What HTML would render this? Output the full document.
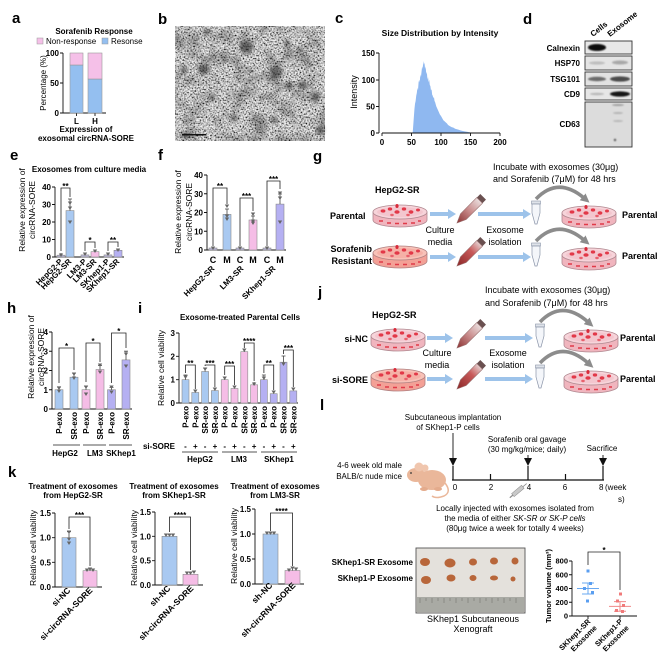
<!DOCTYPE html>
<html><head><meta charset="utf-8"><style>
html,body{margin:0;padding:0;background:#fff;}
svg{display:block;font-family:"Liberation Sans",Arial,sans-serif;}
.pl{font-size:15px;font-weight:bold;}
.b{font-weight:bold;}
.s8{font-size:8px;}
.s9{font-size:9px;}
.ax{stroke:#111;stroke-width:0.9;fill:none;}
.br{stroke:#222;stroke-width:0.8;fill:none;}
.eb{stroke:#444;stroke-width:0.8;fill:none;}
.bar{stroke:#8a8a8a;stroke-width:0.6;}
.bl{fill:#a9c9f1;} .pk{fill:#f5bde6;} .lv{fill:#b5b0f2;} .gl{fill:#bab6d6;}
.pt{fill:#666;}
</style></head><body>
<svg width="668" height="656" viewBox="0 0 668 656" xmlns="http://www.w3.org/2000/svg">
<defs>
 <filter id="nz" x="0" y="0" width="100%" height="100%">
  <feTurbulence type="fractalNoise" baseFrequency="0.65" numOctaves="1" seed="7"/>
  <feColorMatrix type="matrix" values="2.6 0 0 0 -0.72  2.6 0 0 0 -0.72  2.6 0 0 0 -0.72  0 0 0 0 1"/>
 </filter>
 <filter id="nz2" x="0" y="0" width="100%" height="100%">
  <feTurbulence type="fractalNoise" baseFrequency="0.06" numOctaves="2" seed="3"/>
  <feColorMatrix type="matrix" values="0 0 0 0 0  0 0 0 0 0  0 0 0 0 0  -2.2 0 0 0 1.25"/>
 </filter>
 <filter id="blur2"><feGaussianBlur stdDeviation="1.8"/></filter>
 <filter id="blur1"><feGaussianBlur stdDeviation="0.8"/></filter>
 <linearGradient id="tg" x1="0" y1="0" x2="0" y2="1">
  <stop offset="0" stop-color="#e9dcdc"/><stop offset="0.45" stop-color="#c98c8c"/><stop offset="1" stop-color="#8a3030"/>
 </linearGradient>
 <linearGradient id="tg2" x1="0" y1="0" x2="0" y2="1">
  <stop offset="0" stop-color="#e4cfcf"/><stop offset="0.35" stop-color="#c85a5a"/><stop offset="1" stop-color="#8a2626"/>
 </linearGradient>
 <g id="cells">
  <ellipse cx="-17" cy="-4" rx="2.4" ry="1.6" fill="#e23848"/>
  <ellipse cx="-10" cy="-6" rx="2.2" ry="1.6" fill="#e23848"/>
  <ellipse cx="-3" cy="-3" rx="2.6" ry="1.8" fill="#e23848"/>
  <ellipse cx="4" cy="-6" rx="2.2" ry="1.6" fill="#e23848"/>
  <ellipse cx="11" cy="-3" rx="2.4" ry="1.7" fill="#e23848"/>
  <ellipse cx="18" cy="-5" rx="2" ry="1.5" fill="#e23848"/>
  <ellipse cx="-8" cy="0" rx="1.8" ry="1.2" fill="#e8606c"/>
  <ellipse cx="8" cy="0" rx="1.8" ry="1.2" fill="#e8606c"/>
  <ellipse cx="-3" cy="-9" rx="1.6" ry="2" fill="#d82a3a"/>
  <path d="M-21,6 h4 M-13,8 h4 M-5,8.5 h4 M3,8.5 h4 M11,8 h4 M18,6 h3" stroke="#e03a48" stroke-width="1.6"/>
 </g>
 <g id="dishP">
  <path d="M-27,-3 L-27,5 A27,7 0 0 0 27,5 L27,-3 Z" fill="#f0b5be" stroke="#b08890" stroke-width="0.8"/>
  <ellipse cx="0" cy="-3" rx="27" ry="7" fill="#f7d4da" stroke="#b08890" stroke-width="0.8"/>
  <ellipse cx="0" cy="-3" rx="23" ry="5" fill="#f3c6ce"/>
  <use href="#cells"/>
 </g>
 <g id="dishR">
  <path d="M-27,-3 L-27,5 A27,7 0 0 0 27,5 L27,-3 Z" fill="#f3a096" stroke="#b08080" stroke-width="0.8"/>
  <ellipse cx="0" cy="-3" rx="27" ry="7" fill="#f8c2b8" stroke="#b08080" stroke-width="0.8"/>
  <ellipse cx="0" cy="-3" rx="23" ry="5" fill="#f5b0a6"/>
  <use href="#cells"/>
 </g>
 <g id="tube">
  <rect x="-4" y="-20" width="8" height="5" fill="#6a5050"/>
  <path d="M-4,-15 L4,-15 L4,8 L0,17 L-4,8 Z" fill="url(#tg)" stroke="#9a7070" stroke-width="0.6"/>
 </g>
 <g id="tube2">
  <rect x="-4" y="-20" width="8" height="5" fill="#6a5050"/>
  <path d="M-4,-15 L4,-15 L4,8 L0,17 L-4,8 Z" fill="url(#tg2)" stroke="#9a7070" stroke-width="0.6"/>
 </g>
 <g id="epp">
  <rect x="-4.5" y="-12" width="9" height="3" fill="#dfe3ea" stroke="#8a94a8" stroke-width="0.6"/>
  <path d="M-4,-9 L4,-9 L4,0 L1,11 L-1,11 L-4,0 Z" fill="#f4f6fa" stroke="#8a94a8" stroke-width="0.7"/>
 </g>
 <marker id="mg" viewBox="0 0 10 10" refX="2" refY="5" markerWidth="9" markerHeight="9" markerUnits="userSpaceOnUse" orient="auto"><path d="M0,0L10,5L0,10Z" fill="#8c8c8c"/></marker>
 <g id="dn"><path d="M0,0 L-2.2,-3.5 L2.2,-3.5 Z" fill="#666"/></g>
</defs>

<!-- panel letters -->
<text class="pl" x="12" y="23">a</text>
<text class="pl" x="158" y="24">b</text>
<text class="pl" x="335" y="23">c</text>
<text class="pl" x="523" y="24">d</text>
<text class="pl" x="10" y="160">e</text>
<text class="pl" x="158" y="160">f</text>
<text class="pl" x="313" y="161">g</text>
<text class="pl" x="7" y="313">h</text>
<text class="pl" x="138" y="313">i</text>
<text class="pl" x="318" y="297">j</text>
<text class="pl" x="8" y="477">k</text>
<text class="pl" x="320" y="410">l</text>

<!-- ===== a ===== -->
<text class="b s8" x="94" y="34" text-anchor="middle">Sorafenib Response</text>
<rect x="37" y="38" width="6" height="6" fill="#f5c0e8" stroke="#999" stroke-width="0.5"/>
<text class="s8" x="46" y="44">Non-response</text>
<rect x="102" y="38" width="6" height="6" fill="#94bff0" stroke="#999" stroke-width="0.5"/>
<text class="s8" x="111" y="44">Resonse</text>
<path class="ax" d="M63,53 V113 H106 M60,53 H63 M60,83 H63 M60,113 H63 M76.5,113 V116 M95,113 V116"/>
<text class="b s8" x="59" y="56" text-anchor="end">100</text>
<text class="b s8" x="59" y="86" text-anchor="end">50</text>
<text class="b s8" x="59" y="116" text-anchor="end">0</text>
<rect x="70" y="65" width="13" height="48" fill="#94bff0" stroke="#999" stroke-width="0.6"/>
<rect x="70" y="53" width="13" height="12" fill="#f5c0e8" stroke="#999" stroke-width="0.6"/>
<rect x="88" y="79" width="14" height="34" fill="#94bff0" stroke="#999" stroke-width="0.6"/>
<rect x="88" y="53" width="14" height="26" fill="#f5c0e8" stroke="#999" stroke-width="0.6"/>
<text class="b s8" x="76.5" y="124" text-anchor="middle">L</text>
<text class="b s8" x="95" y="124" text-anchor="middle">H</text>
<text class="b s8" x="86" y="132" text-anchor="middle">Expression of</text>
<text class="b s8" x="86" y="141" text-anchor="middle">exosomal circRNA-SORE</text>
<text class="s8" transform="translate(46,83) rotate(-90)" text-anchor="middle">Percentage (%)</text>

<!-- ===== b TEM ===== -->
<rect x="175" y="26" width="150" height="115" fill="#9a9a9a"/>
<rect x="175" y="26" width="150" height="115" filter="url(#nz)" opacity="0.85"/>
<rect x="175" y="26" width="150" height="115" filter="url(#nz2)" opacity="0.35"/>
<g filter="url(#blur2)" fill="#262626" opacity="0.6">
 <path d="M198,66 q5,-4 10,0 q2,6 -4,8 q-7,0 -6,-8z"/>
 <path d="M240,42 q8,-3 13,3 q1,8 -7,9 q-8,-2 -6,-12z"/>
 <path d="M271,67 q8,-2 12,4 q-1,8 -8,8 q-6,-4 -4,-12z"/>
 <ellipse cx="289" cy="86" rx="4" ry="4"/>
 <ellipse cx="303" cy="85" rx="5" ry="4"/>
 <ellipse cx="184" cy="70" rx="3" ry="4"/>
 <ellipse cx="234" cy="118" rx="4" ry="3"/>
 <ellipse cx="274" cy="120" rx="4" ry="3"/>
 <ellipse cx="316" cy="97" rx="4" ry="5"/>
 <ellipse cx="207" cy="32" rx="4" ry="3"/>
 <ellipse cx="287" cy="43" rx="3" ry="3"/>
 <ellipse cx="212" cy="98" rx="3" ry="3"/>
 <ellipse cx="320" cy="130" rx="4" ry="4"/>
 <ellipse cx="262" cy="98" rx="3" ry="2"/>
 <ellipse cx="186" cy="135" rx="5" ry="3"/>
 <ellipse cx="225" cy="60" rx="3" ry="2"/>
 <ellipse cx="300" cy="50" rx="3" ry="2.5"/>
 <ellipse cx="250" cy="80" rx="2.5" ry="2"/>
</g>
<rect x="182" y="134" width="24" height="1.5" fill="#111"/>

<!-- ===== c ===== -->
<text class="b" style="font-size:8.5px" x="440" y="36" text-anchor="middle">Size Distribution by Intensity</text>
<g transform="translate(382,133) scale(0.59,-0.533)">
 <polygon fill="#8fb8f0" points="52,0 53,15 54,30 55,45 56,55 57,60 58,70 59,75 60,85 61,80 62,95 63,100 64,95 65,110 66,105 67,115 68,125 69,120 70,135 71,128 72,132 73,120 74,125 75,110 76,115 77,100 78,105 79,95 80,100 81,90 82,88 83,80 84,82 85,72 86,70 87,65 88,68 89,60 90,58 92,50 94,45 96,40 98,35 100,32 102,28 104,24 106,22 108,20 110,18 112,15 115,13 118,11 121,10 124,8 127,7 130,6 133,5 136,4 140,3 145,2 150,1 152,0"/>
</g>
<path class="ax" d="M379,53 V133 M376,53 H379 M376,80 H379 M376,106.5 H379 M376,133 H379 M382,133 H500 M382,133 V136 M411.5,133 V136 M441,133 V136 M470.5,133 V136 M500,133 V136"/>
<text class="b s8" x="375" y="56" text-anchor="end">150</text>
<text class="b s8" x="375" y="83" text-anchor="end">100</text>
<text class="b s8" x="375" y="109.5" text-anchor="end">50</text>
<text class="b s8" x="375" y="136" text-anchor="end">0</text>
<text class="b s8" x="382" y="145" text-anchor="middle">0</text>
<text class="b s8" x="411.5" y="145" text-anchor="middle">50</text>
<text class="b s8" x="441" y="145" text-anchor="middle">100</text>
<text class="b s8" x="470.5" y="145" text-anchor="middle">150</text>
<text class="b s8" x="500" y="145" text-anchor="middle">200</text>
<text class="s9" transform="translate(357,92) rotate(-90)" text-anchor="middle">Intensity</text>

<!-- ===== d ===== -->
<text class="b s8" transform="translate(593,37) rotate(-38)">Cells</text>
<text class="b s8" transform="translate(610,37) rotate(-38)">Exosome</text>
<text class="b s8" x="580" y="51" text-anchor="end">Calnexin</text>
<text class="b s8" x="580" y="66" text-anchor="end">HSP70</text>
<text class="b s8" x="580" y="82" text-anchor="end">TSG101</text>
<text class="b s8" x="580" y="97" text-anchor="end">CD9</text>
<text class="b s8" x="580" y="127" text-anchor="end">CD63</text>
<rect x="585" y="41" width="47" height="13" fill="#e8e8e8" stroke="#333" stroke-width="0.9"/>
<rect x="585" y="56" width="47" height="14" fill="#e4e4e4" stroke="#333" stroke-width="0.9"/>
<rect x="585" y="72" width="47" height="14" fill="#e2e2e2" stroke="#333" stroke-width="0.9"/>
<rect x="585" y="88" width="47" height="12" fill="#e6e6e6" stroke="#333" stroke-width="0.9"/>
<rect x="585" y="102" width="47" height="45" fill="#dcdcdc" stroke="#333" stroke-width="0.9"/>
<g filter="url(#blur1)">
 <ellipse cx="597" cy="47.5" rx="9" ry="3.5" fill="#080808"/>
 <ellipse cx="597" cy="63" rx="8" ry="1.6" fill="#bdbdbd"/>
 <ellipse cx="620" cy="62.5" rx="8" ry="2" fill="#a8a8a8"/>
 <ellipse cx="597" cy="79" rx="9" ry="2.2" fill="#6a6a6a"/>
 <ellipse cx="620" cy="79" rx="10" ry="2.6" fill="#4a4a4a"/>
 <ellipse cx="597" cy="94" rx="7" ry="1.2" fill="#b8b8b8"/>
 <ellipse cx="620" cy="94" rx="10" ry="2.6" fill="#151515"/>
 <ellipse cx="618" cy="105" rx="6" ry="1" fill="#a0a0a0"/>
 <ellipse cx="618" cy="113" rx="5" ry="1" fill="#b4b4b4"/>
 <ellipse cx="618" cy="121" rx="5" ry="1" fill="#b8b8b8"/>
 <circle cx="615" cy="140" r="1.2" fill="#555"/>
</g>

<!-- ===== e ===== -->
<text class="b s8" x="89" y="172" text-anchor="middle">Exosomes from culture media</text>
<text style="font-size:8.5px" transform="translate(25,210) rotate(-90)" text-anchor="middle">Relative expression of</text>
<text style="font-size:8.5px" transform="translate(35,210) rotate(-90)" text-anchor="middle">circRNA-SORE</text>
<path class="ax" d="M55,187 V257 H124 M52,187 H55 M52,204.5 H55 M52,222 H55 M52,239.5 H55 M52,257 H55"/>
<text class="b s8" x="51" y="190" text-anchor="end">40</text>
<text class="b s8" x="51" y="207.5" text-anchor="end">30</text>
<text class="b s8" x="51" y="225" text-anchor="end">20</text>
<text class="b s8" x="51" y="242.5" text-anchor="end">10</text>
<text class="b s8" x="51" y="260" text-anchor="end">0</text>
<rect class="bar gl" x="57" y="255.2" width="8" height="1.8"/>
<rect class="bar bl" x="66" y="210.6" width="8" height="46.4"/>
<rect class="bar gl" x="81" y="254.9" width="8" height="2.1"/>
<rect class="bar pk" x="91" y="251.7" width="8" height="5.3"/>
<rect class="bar gl" x="104" y="254.9" width="8" height="2.1"/>
<rect class="bar lv" x="114" y="250.3" width="8" height="6.7"/>
<path class="eb" d="M70,210.6 V199 M68,199 H72 M61,255 V253 M95,251.7 V250 M118,250.3 V249 M116,249 H120"/>
<use href="#dn" x="70" y="205"/><use href="#dn" x="70" y="210"/><use href="#dn" x="70" y="224"/>
<use href="#dn" x="61" y="257"/><use href="#dn" x="85" y="256"/><use href="#dn" x="95" y="253"/><use href="#dn" x="108" y="256"/><use href="#dn" x="118" y="252"/>
<path class="br" d="M61,251 V188 H70 V197 M85,251 V242 H95 V248 M108,251 V242 H118 V247"/>
<text class="b s8" x="65.5" y="189" text-anchor="middle">**</text>
<text class="b s8" x="90" y="243" text-anchor="middle">*</text>
<text class="b s8" x="113" y="243" text-anchor="middle">**</text>
<g class="b s8" text-anchor="end">
 <text transform="translate(63,262) rotate(-45)">HepG2-P</text>
 <text transform="translate(72,262) rotate(-45)">HepG2-SR</text>
 <text transform="translate(87,262) rotate(-45)">LM3-P</text>
 <text transform="translate(97,262) rotate(-45)">LM3-SR</text>
 <text transform="translate(110,262) rotate(-45)">SKhep1-P</text>
 <text transform="translate(120,262) rotate(-45)">SKhep1-SR</text>
</g>

<!-- ===== f ===== -->
<text style="font-size:8.5px" transform="translate(181,212) rotate(-90)" text-anchor="middle">Relative expression of</text>
<text style="font-size:8.5px" transform="translate(192,212) rotate(-90)" text-anchor="middle">circRNA-SORE</text>
<path class="ax" d="M207,175 V250 H286 M204,175 H207 M204,193.75 H207 M204,212.5 H207 M204,231.25 H207 M204,250 H207"/>
<text class="b s8" x="203" y="178" text-anchor="end">40</text>
<text class="b s8" x="203" y="196.75" text-anchor="end">30</text>
<text class="b s8" x="203" y="215.5" text-anchor="end">20</text>
<text class="b s8" x="203" y="234.25" text-anchor="end">10</text>
<text class="b s8" x="203" y="253" text-anchor="end">0</text>
<rect class="bar gl" x="209" y="248" width="8" height="2"/>
<rect class="bar bl" x="223" y="214.4" width="8" height="35.6"/>
<rect class="bar gl" x="236" y="248" width="8" height="2"/>
<rect class="bar pk" x="249" y="220" width="8" height="30"/>
<rect class="bar gl" x="263" y="248" width="8" height="2"/>
<rect class="bar lv" x="276" y="204.1" width="8" height="45.9"/>
<path class="eb" d="M227,214.4 V209 M225,209 H229 M253,220 V216 M251,216 H255 M280,204 V194 M278,194 H282"/>
<use href="#dn" x="227" y="208"/><use href="#dn" x="227" y="218"/><use href="#dn" x="227" y="221"/>
<use href="#dn" x="253" y="216"/><use href="#dn" x="253" y="223"/><use href="#dn" x="253" y="225"/>
<use href="#dn" x="280" y="195"/><use href="#dn" x="280" y="200"/><use href="#dn" x="280" y="224"/>
<use href="#dn" x="213" y="250"/><use href="#dn" x="240" y="250"/><use href="#dn" x="267" y="250"/>
<path class="br" d="M213,246 V188 H227 V204 M240,246 V198 H253 V211 M267,246 V181 H280 V189"/>
<text class="b s8" x="220" y="189" text-anchor="middle">**</text>
<text class="b s8" x="246.5" y="199" text-anchor="middle">***</text>
<text class="b s8" x="273.5" y="182" text-anchor="middle">***</text>
<g class="b s9" text-anchor="middle">
 <text x="213" y="263">C</text><text x="227" y="263">M</text>
 <text x="240" y="263">C</text><text x="253" y="263">M</text>
 <text x="267" y="263">C</text><text x="280" y="263">M</text>
</g>
<g class="b s8" text-anchor="end">
 <text transform="translate(215,269) rotate(-45)">HepG2-SR</text>
 <text transform="translate(244,269) rotate(-45)">LM3-SR</text>
 <text transform="translate(276,269) rotate(-45)">SKhep1-SR</text>
</g>

<!-- ===== g ===== -->
<text class="s9" x="493" y="170">Incubate with exosomes (30μg)</text>
<text class="s9" x="493" y="182">and Sorafenib (7μM) for 48 hrs</text>
<text class="b s9" x="375" y="193">HepG2-SR</text>
<text class="b s9" x="330" y="219">Parental</text>
<text class="b s9" x="372" y="252" text-anchor="end">Sorafenib</text>
<text class="b s9" x="372" y="264" text-anchor="end">Resistant</text>
<use href="#dishP" x="400" y="215"/>
<use href="#dishR" x="400" y="256"/>
<use href="#dishP" x="589" y="216"/>
<use href="#dishP" x="589" y="258"/>
<g stroke="#9dc3ea" stroke-width="4">
 <line x1="430" y1="214" x2="449" y2="214"/><line x1="478" y1="214" x2="524" y2="214"/>
 <line x1="430" y1="257" x2="449" y2="257"/><line x1="478" y1="257" x2="524" y2="257"/>
</g>
<g fill="#9dc3ea">
 <polygon points="448,209 456,214 448,219"/><polygon points="523,209 531,214 523,219"/>
 <polygon points="448,252 456,257 448,262"/><polygon points="523,252 531,257 523,262"/>
</g>
<use href="#tube" transform="translate(469,211) rotate(45)"/>
<use href="#tube2" transform="translate(469,254) rotate(45)"/>
<use href="#epp" x="536" y="213"/>
<use href="#epp" x="536" y="255"/>
<path d="M536,199 Q558,176 584,198" stroke="#8c8c8c" stroke-width="3.5" fill="none" marker-end="url(#mg)"/>
<path d="M536,241 Q558,218 584,240" stroke="#8c8c8c" stroke-width="3.5" fill="none" marker-end="url(#mg)"/>
<text class="s9" x="440" y="233" text-anchor="middle">Culture</text>
<text class="s9" x="440" y="245" text-anchor="middle">media</text>
<text class="s9" x="505" y="233" text-anchor="middle">Exosome</text>
<text class="s9" x="505" y="245" text-anchor="middle">isolation</text>
<text class="b s9" x="622" y="218">Parental</text>
<text class="b s9" x="622" y="259">Parental</text>

<!-- ===== j ===== -->
<text class="s9" x="485" y="293">Incubate with exosomes (30μg)</text>
<text class="s9" x="485" y="306">and Sorafenib (7μM) for 48 hrs</text>
<text class="b s9" x="372" y="318">HepG2-SR</text>
<text class="b s9" x="368" y="342" text-anchor="end">si-NC</text>
<text class="b s9" x="368" y="383" text-anchor="end">si-SORE</text>
<use href="#dishP" x="398" y="339"/>
<use href="#dishR" x="398" y="379"/>
<use href="#dishP" x="591" y="340"/>
<use href="#dishP" x="591" y="381"/>
<g stroke="#9dc3ea" stroke-width="4">
 <line x1="427" y1="338" x2="446" y2="338"/><line x1="485" y1="338" x2="526" y2="338"/>
 <line x1="427" y1="379" x2="446" y2="379"/><line x1="485" y1="379" x2="526" y2="379"/>
</g>
<g fill="#9dc3ea">
 <polygon points="445,333 453,338 445,343"/><polygon points="525,333 533,338 525,343"/>
 <polygon points="445,374 453,379 445,384"/><polygon points="525,374 533,379 525,384"/>
</g>
<use href="#tube" transform="translate(469,336) rotate(45)"/>
<use href="#tube2" transform="translate(469,377) rotate(45)"/>
<use href="#epp" x="540" y="336"/>
<use href="#epp" x="540" y="377"/>
<path d="M540,322 Q562,299 588,322" stroke="#8c8c8c" stroke-width="3.5" fill="none" marker-end="url(#mg)"/>
<path d="M540,363 Q562,340 588,363" stroke="#8c8c8c" stroke-width="3.5" fill="none" marker-end="url(#mg)"/>
<text class="s9" x="437" y="356" text-anchor="middle">Culture</text>
<text class="s9" x="437" y="368" text-anchor="middle">media</text>
<text class="s9" x="508" y="356" text-anchor="middle">Exosome</text>
<text class="s9" x="508" y="368" text-anchor="middle">isolation</text>
<text class="b s9" x="620" y="341">Parental</text>
<text class="b s9" x="620" y="382">Parental</text>

<!-- ===== h ===== -->
<text style="font-size:8.5px" transform="translate(34,357) rotate(-90)" text-anchor="middle">Relative expression of</text>
<text style="font-size:8.5px" transform="translate(44,357) rotate(-90)" text-anchor="middle">circRNA-SORE</text>
<path class="ax" d="M52,332 V409 H132 M49,332 H52 M49,351.25 H52 M49,370.5 H52 M49,389.75 H52 M49,409 H52"/>
<text class="b s8" x="48" y="335" text-anchor="end">4</text>
<text class="b s8" x="48" y="354.25" text-anchor="end">3</text>
<text class="b s8" x="48" y="373.5" text-anchor="end">2</text>
<text class="b s8" x="48" y="392.75" text-anchor="end">1</text>
<text class="b s8" x="48" y="412" text-anchor="end">0</text>
<rect class="bar bl" x="55" y="389.75" width="8" height="19.25"/>
<rect class="bar bl" x="70" y="377.2" width="8" height="31.8"/>
<rect class="bar pk" x="82" y="389.75" width="8" height="19.25"/>
<rect class="bar pk" x="96" y="369.5" width="8" height="39.5"/>
<rect class="bar lv" x="107.5" y="389.75" width="8" height="19.25"/>
<rect class="bar lv" x="122" y="359.9" width="8" height="49.1"/>
<path class="eb" d="M59,389.75 V386.8 M57,386.8 H61 M74,377.2 V373 M72,373 H76 M86,389.75 V386 M84,386 H88 M100,369.5 V365.6 M98,365.6 H102 M111.5,389.75 V387.4 M109.5,387.4 H113.5 M126,359.9 V351.2 M124,351.2 H128"/>
<use href="#dn" x="59" y="390"/><use href="#dn" x="59" y="393"/><use href="#dn" x="74" y="376"/><use href="#dn" x="74" y="380"/>
<use href="#dn" x="86" y="389"/><use href="#dn" x="86" y="396"/><use href="#dn" x="100" y="367"/><use href="#dn" x="100" y="374"/>
<use href="#dn" x="111.5" y="389"/><use href="#dn" x="111.5" y="394"/><use href="#dn" x="126" y="356"/><use href="#dn" x="126" y="368"/>
<path class="br" d="M59,383 V348 H74 V370 M86,382 V343 H100 V362 M111.5,383 V333 H126 V348"/>
<text class="b s8" x="66.5" y="349" text-anchor="middle">*</text>
<text class="b s8" x="93" y="344" text-anchor="middle">*</text>
<text class="b s8" x="118.75" y="334" text-anchor="middle">*</text>
<g class="b s8" text-anchor="end">
 <text transform="translate(62,412) rotate(-90)">P-exo</text>
 <text transform="translate(77,412) rotate(-90)">SR-exo</text>
 <text transform="translate(89,412) rotate(-90)">P-exo</text>
 <text transform="translate(103,412) rotate(-90)">SR-exo</text>
 <text transform="translate(114.5,412) rotate(-90)">P-exo</text>
 <text transform="translate(129,412) rotate(-90)">SR-exo</text>
</g>
<path stroke="#555" stroke-width="0.9" d="M53,445 H80 M83,445 H106 M109,445 H132"/>
<text class="b s8" x="65" y="456" text-anchor="middle">HepG2</text>
<text class="b s8" x="95" y="456" text-anchor="middle">LM3</text>
<text class="b s8" x="121" y="456" text-anchor="middle">SKhep1</text>

<!-- ===== i ===== -->
<text class="b s8" x="240" y="320" text-anchor="middle">Exosome-treated Parental Cells</text>
<text style="font-size:8.5px" transform="translate(164,368) rotate(-90)" text-anchor="middle">Relative cell viability</text>
<path class="ax" d="M179,333 V403 H298 M176,333 H179 M176,356.3 H179 M176,379.7 H179 M176,403 H179"/>
<text class="b s8" x="175" y="336" text-anchor="end">3</text>
<text class="b s8" x="175" y="359.3" text-anchor="end">2</text>
<text class="b s8" x="175" y="382.7" text-anchor="end">1</text>
<text class="b s8" x="175" y="406" text-anchor="end">0</text>
<rect class="bar bl" x="182" y="379.7" width="7" height="23.3"/>
<rect class="bar bl" x="191.8" y="392.5" width="7" height="10.5"/>
<rect class="bar bl" x="201.6" y="371.5" width="7" height="31.5"/>
<rect class="bar bl" x="211.4" y="390.6" width="7" height="12.4"/>
<rect class="bar pk" x="221.2" y="379.7" width="7" height="23.3"/>
<rect class="bar pk" x="231" y="388.5" width="7" height="14.5"/>
<rect class="bar pk" x="240.8" y="351.7" width="7" height="51.3"/>
<rect class="bar pk" x="250.6" y="384.8" width="7" height="18.2"/>
<rect class="bar lv" x="260.4" y="379.7" width="7" height="23.3"/>
<rect class="bar lv" x="270.2" y="393.7" width="7" height="9.3"/>
<rect class="bar lv" x="280" y="362.2" width="7" height="40.8"/>
<rect class="bar lv" x="289.8" y="390.9" width="7" height="12.1"/>
<path class="eb" d="M185.5,379.7 V375 M183.5,375 H187.5 M205.1,371.5 V368 M203.1,368 H207.1 M224.7,379.7 V377 M244.3,351.7 V350 M254.1,384.8 V382 M263.9,379.7 V375 M261.9,375 H265.9 M283.5,362.2 V356 M281.5,356 H285.5"/>
<use href="#dn" x="185.5" y="379"/><use href="#dn" x="195.3" y="393"/><use href="#dn" x="205.1" y="371"/><use href="#dn" x="214.9" y="391"/>
<use href="#dn" x="224.7" y="380"/><use href="#dn" x="234.5" y="389"/><use href="#dn" x="244.3" y="352"/><use href="#dn" x="254.1" y="386"/>
<use href="#dn" x="263.9" y="380"/><use href="#dn" x="273.7" y="394"/><use href="#dn" x="283.5" y="366"/><use href="#dn" x="293.3" y="391"/>
<path class="br" d="M185.5,373 V365 H195.3 V389 M205.1,366 V365 H214.9 V387 M224.7,375 V366 H234.5 V385 M244.3,348 V343 H254.1 V381 M263.9,373 V365 H273.7 V390 M283.5,354 V350 H293.3 V387"/>
<text class="b s8" x="190.4" y="366" text-anchor="middle">**</text>
<text class="b s8" x="210" y="366" text-anchor="middle">***</text>
<text class="b s8" x="229.6" y="367" text-anchor="middle">***</text>
<text class="b s8" x="249.2" y="344" text-anchor="middle">****</text>
<text class="b s8" x="268.8" y="366" text-anchor="middle">**</text>
<text class="b s8" x="288.4" y="351" text-anchor="middle">***</text>
<g class="b s8" text-anchor="end">
 <text transform="translate(188.5,406) rotate(-90)">P-exo</text>
 <text transform="translate(198.3,406) rotate(-90)">P-exo</text>
 <text transform="translate(208.1,406) rotate(-90)">SR-exo</text>
 <text transform="translate(217.9,406) rotate(-90)">SR-exo</text>
 <text transform="translate(227.7,406) rotate(-90)">P-exo</text>
 <text transform="translate(237.5,406) rotate(-90)">P-exo</text>
 <text transform="translate(247.3,406) rotate(-90)">SR-exo</text>
 <text transform="translate(257.1,406) rotate(-90)">SR-exo</text>
 <text transform="translate(266.9,406) rotate(-90)">P-exo</text>
 <text transform="translate(276.7,406) rotate(-90)">P-exo</text>
 <text transform="translate(286.5,406) rotate(-90)">SR-exo</text>
 <text transform="translate(296.3,406) rotate(-90)">SR-exo</text>
</g>
<text class="b s8" x="175" y="449" text-anchor="end">si-SORE</text>
<g class="b s8" text-anchor="middle">
 <text x="185.5" y="449">-</text><text x="195.3" y="449">+</text><text x="205.1" y="449">-</text><text x="214.9" y="449">+</text>
 <text x="224.7" y="449">-</text><text x="234.5" y="449">+</text><text x="244.3" y="449">-</text><text x="254.1" y="449">+</text>
 <text x="263.9" y="449">-</text><text x="273.7" y="449">+</text><text x="283.5" y="449">-</text><text x="293.3" y="449">+</text>
</g>
<path stroke="#555" stroke-width="0.9" d="M182,452 H218 M222,452 H257 M261,452 H297"/>
<text class="b s8" x="200" y="462" text-anchor="middle">HepG2</text>
<text class="b s8" x="239" y="462" text-anchor="middle">LM3</text>
<text class="b s8" x="279" y="462" text-anchor="middle">SKhep1</text>

<!-- ===== k ===== -->
<g class="b s8" text-anchor="middle">
 <text x="73" y="489">Treatment of exosomes</text><text x="73" y="498">from HepG2-SR</text>
 <text x="174" y="489">Treatment of exosomes</text><text x="174" y="498">from SKhep1-SR</text>
 <text x="275" y="489">Treatment of exosomes</text><text x="275" y="498">from LM3-SR</text>
</g>
<!-- k1 -->
<text style="font-size:8.5px" transform="translate(36,548) rotate(-90)" text-anchor="middle">Relative cell viability</text>
<path class="ax" d="M55,513 V587 H102 M52,513 H55 M52,537.7 H55 M52,562.3 H55 M52,587 H55"/>
<text class="b s8" x="51" y="516" text-anchor="end">1.5</text>
<text class="b s8" x="51" y="540.7" text-anchor="end">1.0</text>
<text class="b s8" x="51" y="565.3" text-anchor="end">0.5</text>
<text class="b s8" x="51" y="590" text-anchor="end">0.0</text>
<rect class="bar bl" x="62" y="537.7" width="14" height="49.3"/>
<rect class="bar pk" x="83" y="570.7" width="14" height="16.3"/>
<path class="eb" d="M69,537.7 V531.7 M67,531.7 H71 M90,570.7 V569"/>
<use href="#dn" x="69" y="534"/><use href="#dn" x="69" y="541"/><use href="#dn" x="69" y="545"/>
<use href="#dn" x="90" y="571"/><use href="#dn" x="87" y="572"/><use href="#dn" x="93" y="572"/>
<path class="br" d="M69,529 V517 H90 V566"/>
<text class="b s8" x="79.5" y="518" text-anchor="middle">***</text>
<g class="b" style="font-size:8.5px" text-anchor="end">
 <text transform="translate(71,591) rotate(-45)">si-NC</text>
 <text transform="translate(93,591) rotate(-45)">si-circRNA-SORE</text>
</g>
<!-- k2 -->
<text style="font-size:8.5px" transform="translate(137,548) rotate(-90)" text-anchor="middle">Relative cell viability</text>
<path class="ax" d="M155,512 V585 H203 M152,512 H155 M152,536.3 H155 M152,560.7 H155 M152,585 H155"/>
<text class="b s8" x="151" y="515" text-anchor="end">1.5</text>
<text class="b s8" x="151" y="539.3" text-anchor="end">1.0</text>
<text class="b s8" x="151" y="563.7" text-anchor="end">0.5</text>
<text class="b s8" x="151" y="588" text-anchor="end">0.0</text>
<rect class="bar bl" x="162" y="536.3" width="15" height="48.7"/>
<rect class="bar pk" x="183" y="574.3" width="15" height="10.7"/>
<use href="#dn" x="169.5" y="537"/><use href="#dn" x="166" y="537"/><use href="#dn" x="173" y="537"/>
<use href="#dn" x="190.5" y="575"/><use href="#dn" x="187" y="575"/><use href="#dn" x="194" y="574"/>
<path class="br" d="M169.5,532 V517 H190.5 V570"/>
<text class="b s8" x="180" y="518" text-anchor="middle">****</text>
<g class="b" style="font-size:8.5px" text-anchor="end">
 <text transform="translate(171,589) rotate(-45)">sh-NC</text>
 <text transform="translate(194,589) rotate(-45)">sh-circRNA-SORE</text>
</g>
<!-- k3 -->
<text style="font-size:8.5px" transform="translate(237,546) rotate(-90)" text-anchor="middle">Relative cell viability</text>
<path class="ax" d="M255,509 V584 H304 M252,509 H255 M252,534 H255 M252,559 H255 M252,584 H255"/>
<text class="b s8" x="251" y="512" text-anchor="end">1.5</text>
<text class="b s8" x="251" y="537" text-anchor="end">1.0</text>
<text class="b s8" x="251" y="562" text-anchor="end">0.5</text>
<text class="b s8" x="251" y="587" text-anchor="end">0.0</text>
<rect class="bar bl" x="263" y="534" width="15" height="50"/>
<rect class="bar pk" x="285" y="570.5" width="15" height="13.5"/>
<path class="eb" d="M292.5,570.5 V568.5"/>
<use href="#dn" x="270.5" y="535"/><use href="#dn" x="267" y="535"/><use href="#dn" x="274" y="535"/>
<use href="#dn" x="292.5" y="570"/><use href="#dn" x="289" y="572"/><use href="#dn" x="296" y="571"/>
<path class="br" d="M270.5,531 V513 H292.5 V566"/>
<text class="b s8" x="281.5" y="514" text-anchor="middle">****</text>
<g class="b" style="font-size:8.5px" text-anchor="end">
 <text transform="translate(273,586) rotate(-45)">sh-NC</text>
 <text transform="translate(296,586) rotate(-45)">sh-circRNA-SORE</text>
</g>

<!-- ===== l ===== -->
<text class="s8" x="453" y="420" text-anchor="middle">Subcutaneous implantation</text>
<text class="s8" x="448" y="430" text-anchor="middle">of SKhep1-P cells</text>
<path stroke="#111" stroke-width="0.9" d="M453,433 V459 M528,455 V459 M603,455 V459"/>
<polygon points="449,458 457,458 453,466" fill="#111"/>
<polygon points="524,458 532,458 528,466" fill="#111"/>
<polygon points="599,458 607,458 603,466" fill="#111"/>
<text class="s8" x="527" y="442" text-anchor="middle">Sorafenib oral gavage</text>
<text class="s8" x="527" y="452" text-anchor="middle">(30 mg/kg/mice; daily)</text>
<text class="s8" x="602" y="451" text-anchor="middle">Sacrifice</text>
<path stroke="#111" stroke-width="1.2" fill="none" d="M452,480 H604 M453,466 V480 M490.5,474 V480 M528,466 V480 M565.5,474 V480 M603,466 V480"/>
<g class="s8" text-anchor="middle">
 <text x="455" y="490">0</text><text x="491" y="490">2</text><text x="529" y="490">4</text><text x="565" y="490">6</text>
</g>
<text class="s8" x="599" y="490">8</text>
<text class="s8" x="605" y="490">(week</text>
<text class="s8" x="618" y="502">s)</text>
<g transform="translate(519,490) rotate(-40)">
 <rect x="-8" y="-2" width="13" height="4" fill="#c9c9c9" stroke="#8a8a8a" stroke-width="0.5"/>
 <line x1="5" y1="0" x2="10" y2="0" stroke="#8a8a8a" stroke-width="0.8"/>
 <line x1="-8" y1="0" x2="-12" y2="0" stroke="#8a8a8a" stroke-width="1.2"/>
</g>
<text class="s8" x="515" y="511" text-anchor="middle">Locally injected with exosomes isolated from</text>
<text class="s8" x="515" y="521" text-anchor="middle">the media of either <tspan font-style="italic">SK-SR or SK-P cells</tspan></text>
<text class="s8" x="515" y="531" text-anchor="middle">(80μg twice a week for totally 4 weeks)</text>
<text class="s8" x="402" y="468" text-anchor="end">4-6 week old male</text>
<text class="s8" x="402" y="479" text-anchor="end">BALB/c nude mice</text>
<!-- mouse -->
<g>
 <ellipse cx="432" cy="480" rx="14" ry="10" fill="#eab79a"/>
 <ellipse cx="416" cy="475" rx="9" ry="7" fill="#eab79a"/>
 <circle cx="419" cy="467" r="4.5" fill="#f0c6ae"/>
 <circle cx="425" cy="468" r="3.5" fill="#f0c6ae"/>
 <ellipse cx="424" cy="489" rx="4" ry="2" fill="#e4ab8c"/>
 <ellipse cx="438" cy="489" rx="4" ry="2" fill="#e4ab8c"/>
 <path d="M445,483 Q452,492 444,496 Q436,499 432,496" stroke="#eab79a" stroke-width="1.5" fill="none"/>
 <circle cx="411" cy="473" r="0.9" fill="#333"/>
</g>
<!-- photo -->
<text class="b s8" x="413" y="565" text-anchor="end">SKhep1-SR Exosome</text>
<text class="b s8" x="413" y="581" text-anchor="end">SKhep1-P Exosome</text>
<rect x="416" y="548" width="109" height="65" fill="#e4e1dc" stroke="#555" stroke-width="0.9"/>
<rect x="417" y="597" width="107" height="15" fill="#a9aaa4"/>
<path stroke="#6a6a66" stroke-width="0.5" d="M420,598 v5 M426,598 v3 M432,598 v5 M438,598 v3 M444,598 v5 M450,598 v3 M456,598 v5 M462,598 v3 M468,598 v5 M474,598 v3 M480,598 v5 M486,598 v3 M492,598 v5 M498,598 v3 M504,598 v5 M510,598 v3 M516,598 v5"/>
<g fill="#b8663a">
 <ellipse cx="425" cy="562" rx="5" ry="4"/>
 <ellipse cx="450" cy="563" rx="5.5" ry="4.5"/>
 <ellipse cx="473" cy="562" rx="4" ry="3.5"/>
 <ellipse cx="494" cy="561" rx="4" ry="3.5"/>
 <ellipse cx="515" cy="561" rx="3.5" ry="3.5"/>
 <ellipse cx="426" cy="580" rx="5" ry="4"/>
 <ellipse cx="451" cy="578" rx="4.5" ry="3.5"/>
 <ellipse cx="473" cy="578" rx="3.5" ry="3"/>
 <ellipse cx="494" cy="578" rx="4" ry="2.5"/>
 <ellipse cx="513" cy="579" rx="2.5" ry="2.5"/>
</g>
<text class="s9" x="473" y="622" text-anchor="middle">SKhep1 Subcutaneous</text>
<text class="s9" x="473" y="632" text-anchor="middle">Xenograft</text>
<!-- tumor volume -->
<text class="b" style="font-size:7.5px" transform="translate(551,586) rotate(-90)" text-anchor="middle">Tumor volume (mm³)</text>
<path class="ax" d="M572,561 V616 H637 M569,561 H572 M569,574.75 H572 M569,588.5 H572 M569,602.25 H572 M569,616 H572 M588,616 V619 M620,616 V619"/>
<g class="b" style="font-size:7.5px" text-anchor="end">
 <text x="568" y="563.5">800</text><text x="568" y="577.25">600</text><text x="568" y="591">400</text><text x="568" y="604.75">200</text><text x="568" y="618.5">0</text>
</g>
<path stroke="#6aa8f0" stroke-width="1" d="M577,588.5 H599 M582,583 H594 M582,594 H594 M588,583 V594"/>
<path stroke="#f08a8a" stroke-width="1" d="M609,606.4 H631 M614,601.6 H626 M614,611.2 H626 M620,601.6 V611.2"/>
<g fill="#5a9ef0">
 <rect x="586.5" y="569.5" width="3" height="3"/><rect x="589" y="582" width="3" height="3"/><rect x="583" y="587" width="3" height="3"/><rect x="591" y="591" width="3" height="3"/><rect x="586" y="599.5" width="3" height="3"/>
</g>
<g fill="#f07a7a">
 <rect x="619" y="592.5" width="3" height="3"/><rect x="616" y="599.5" width="3" height="3"/><rect x="622" y="604" width="3" height="3"/><rect x="615" y="609" width="3" height="3"/><rect x="621" y="610" width="3" height="3"/>
</g>
<path class="br" d="M588,565 V552 H620 V590"/>
<text class="b s8" x="604" y="553" text-anchor="middle">*</text>
<g class="b" style="font-size:7.5px" text-anchor="end">
 <text transform="translate(591,622) rotate(-45)"><tspan x="0" dy="0">SKhep1-SR</tspan><tspan x="0" dy="9">Exosome</tspan></text>
 <text transform="translate(623,622) rotate(-45)"><tspan x="0" dy="0">SKhep1-P</tspan><tspan x="0" dy="9">Exosome</tspan></text>
</g>
</svg>
</body></html>
